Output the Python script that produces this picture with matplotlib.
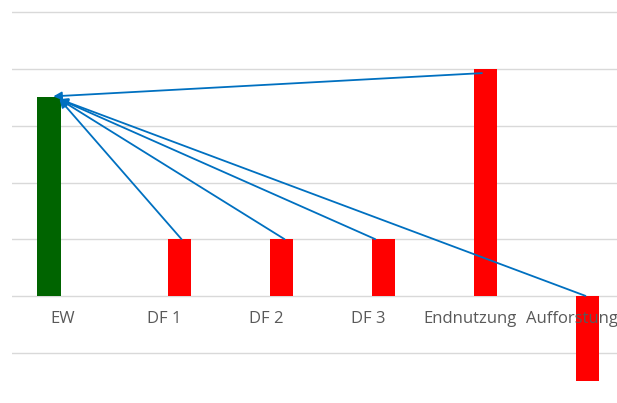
import matplotlib
matplotlib.use("Agg")
from matplotlib import pyplot as plt
from matplotlib import transforms

# Kategorien und Werte
kategorien = ["EW", "DF 1", "DF 2", "DF 3", "Endnutzung", "Aufforstung"]
werte_gruen = [3.5, 0, 0, 0, 0, 0]
werte_rot = [0, 1, 1, 1, 4, -1.5]

fig = plt.figure(figsize=(6.17, 4.03), dpi=100)
ax = fig.add_axes([11.5 / 617, 0, 612 / 617, 1])

breite = 0.235
x = list(range(len(kategorien)))
x_gruen = [i - 0.13 for i in x]
x_rot = [i + 0.147 for i in x]

ax.bar(x_gruen, werte_gruen, width=breite, color="#006400", zorder=2)
ax.bar(x_rot, werte_rot, width=breite, color="#ff0000", zorder=2)

ax.set_xlim(-0.5, 5.5)
ax.set_ylim(-1.89, 5.22)
ax.set_yticks(range(-1, 6))
ax.yaxis.grid(True, color="#d9d9d9", linewidth=1)
ax.set_axisbelow(True)
ax.tick_params(length=0, labelleft=False, labelbottom=False)
for s in ax.spines.values():
    s.set_visible(False)

# Beschriftungen direkt unter der Nulllinie
versatz = transforms.offset_copy(ax.transData, fig=fig, x=0, y=-23, units="dots")
for i, k in enumerate(kategorien):
    ax.text(i, 0, k, transform=versatz, ha="center", va="center",
            fontsize=12, color="#595959", family=["Open Sans", "DejaVu Sans"])

# Pfeile von den Balken zum EW-Balken
ziel = (x_gruen[0] + 0.02, werte_gruen[0])
pfeil = dict(arrowstyle="-|>", color="#0070c0", lw=1.3, mutation_scale=12,
             shrinkA=0, shrinkB=0)
ax.annotate("", xy=(ziel[0] + 0.02, ziel[1] + 0.02), xytext=(x_rot[4] - 0.035, werte_rot[4] - 0.07),
            arrowprops=pfeil, zorder=3)
for i, dx in [(1, 0.02), (2, 0.03), (3, -0.08)]:
    ax.annotate("", xy=(ziel[0] + 0.08, ziel[1] - 0.03), xytext=(x_rot[i] + dx, werte_rot[i]),
                arrowprops=pfeil, zorder=3)
ax.annotate("", xy=(ziel[0] + 0.08, ziel[1] - 0.03), xytext=(x_rot[5] - 0.02, 0),
            arrowprops=pfeil, zorder=3)

plt.savefig("out.png", dpi=100)
